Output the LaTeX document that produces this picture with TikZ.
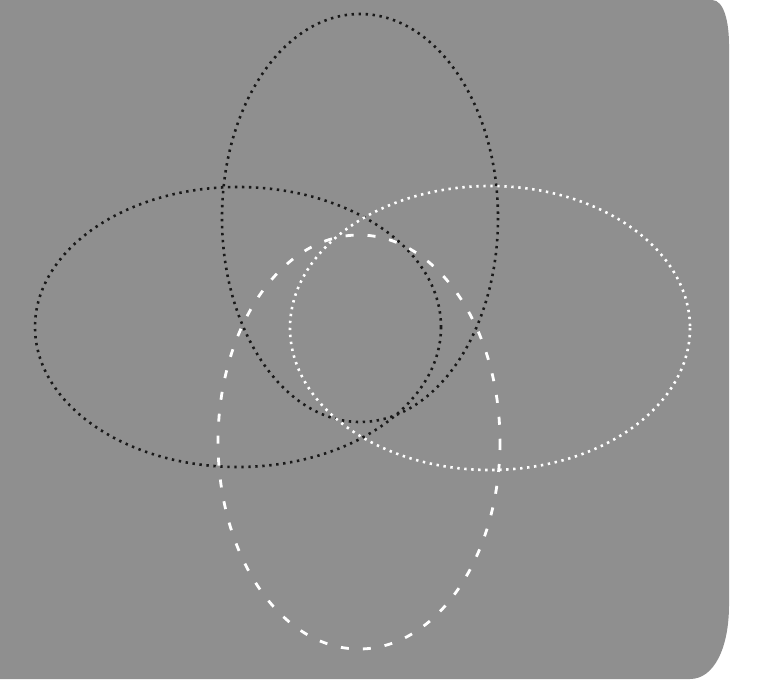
\documentclass[tikz,border=0pt]{standalone}
\usetikzlibrary{shapes.geometric}

\begin{document}
\begin{tikzpicture}[x=0.5pt,y=-0.5pt,
  panel/.style={fill=black!44},
  darkring/.style={draw=black!90,line width=1.3pt,dash pattern=on 1.2pt off 2.3pt},
  lightring/.style={draw=white,line width=1.3pt,dash pattern=on 1.2pt off 2.3pt},
  lightdash/.style={draw=white,line width=1.4pt,dash pattern=on 4pt off 7pt},
]
\useasboundingbox (0,0) rectangle (764,679);

% background panel, rounded on the right
\path[panel] (0,0) -- (712,0) .. controls (724,0) and (729,22) .. (729,45)
  -- (729,605) .. controls (729,648) and (714,679) .. (690,679) -- (0,679) -- cycle;

% --- the four rings ---
\draw[darkring]  (360,218) ellipse [x radius=138, y radius=204]; % top
\draw[darkring]  (238,327) ellipse [x radius=203, y radius=140]; % left
\draw[lightring] (490,328) ellipse [x radius=200, y radius=142]; % right
\draw[lightdash] (359,442) ellipse [x radius=141, y radius=207]; % bottom

\end{tikzpicture}
\end{document}
